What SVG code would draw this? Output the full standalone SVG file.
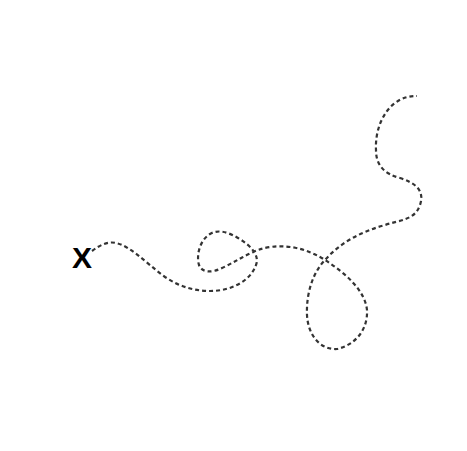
<svg xmlns="http://www.w3.org/2000/svg" width="467" height="451" viewBox="0 0 467 451">
<style>
.trail{fill:none;stroke:#333;stroke-width:2.2;stroke-dasharray:4 3;stroke-linecap:butt}
.mark{font-family:"Liberation Sans",Arial,sans-serif;font-weight:bold;font-size:30px;fill:#000}
</style>
<rect width="467" height="451" fill="#fff"/>
<g id="start">
<text class="mark" x="82" y="268" text-anchor="middle">X</text>
</g>
<g id="connectors">
<path class="trail" d="M92,251 C100,245 108,241 116,243 C130,246 145,262 165,277 C180,287 195,291 210,291 C230,291 250,282 256,265 C260,255 250,245 238,238 C228,232 218,229 210,234 C200,240 196,255 199,265 C202,273 212,273 222,268 C235,262 245,255 258,250 C275,244 300,244 325,260 C345,273 365,290 367,310 C368,330 355,345 337,349 C320,350 308,335 307,315 C306,290 315,270 325,260 C340,243 360,232 385,225 C400,220 415,220 420,205 C425,190 415,183 400,178 C385,174 376,166 376,150 C375,130 383,112 395,103 C403,97 410,96 417,96"/>
</g>
</svg>
